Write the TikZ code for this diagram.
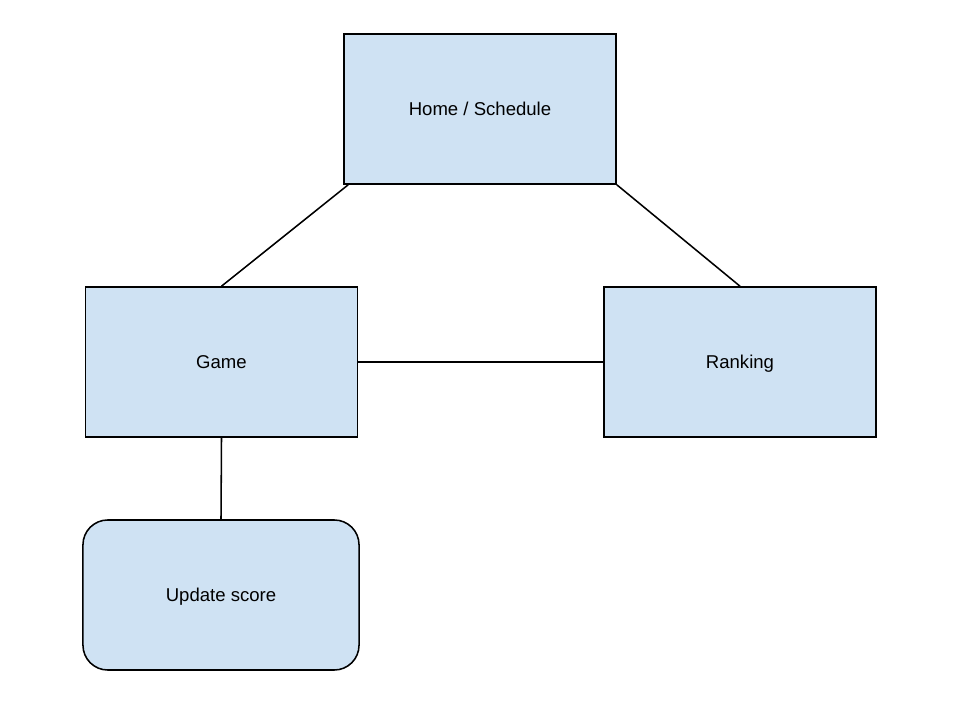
\documentclass[tikz,border=0pt]{standalone}
\usepackage{fontspec}
\setmainfont{Liberation Sans}
\usepackage{xcolor}
\usetikzlibrary{positioning, calc}
\definecolor{boxfill}{HTML}{CFE2F3}
\definecolor{inkprimary}{HTML}{000000}

\begin{document}
\begin{tikzpicture}[
  x=0.025cm, y=-0.025cm,
  page/.style={draw=inkprimary, fill=boxfill, line width=1.1pt, minimum width=6.8cm, minimum height=3.75cm, text height=0.98em, text depth=0em, font=\fontsize{13.2}{15}\selectfont},
  action/.style={page, rounded corners=0.62cm, minimum width=6.9cm},
  link/.style={inkprimary, line width=1.1pt}
]
\useasboundingbox (0,0) rectangle (960,720);

% ---- pages ----
\node[page] (home) at (480, 109) {Home / Schedule};
\node[page] (game) at (221.5, 362) {Game};
\node[page] (ranking) at (740, 362) {Ranking};

% ---- action ----
\node[action] (update) at (221, 595) {Update score};

% ---- links ----
\draw[link] ($(home.south west)+(5,0)$) -- (game.north);
\draw[link] (home.south east) -- (ranking.north);
\draw[link] (game.east) -- (ranking.west);
\draw[link] (game.south) -- (update.north);
\end{tikzpicture}
\end{document}
